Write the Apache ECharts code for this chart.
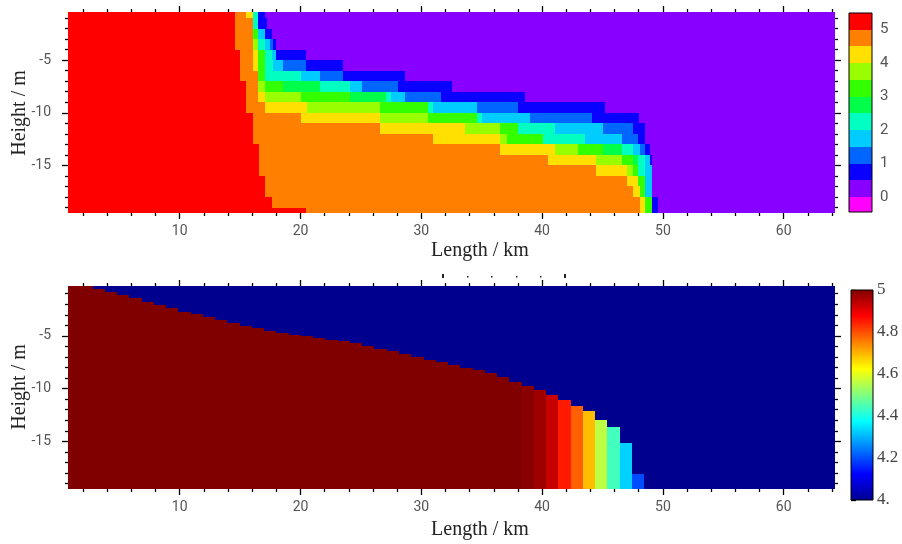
<!DOCTYPE html>
<html><head><meta charset="utf-8">
<script src="https://cdn.jsdelivr.net/npm/echarts@6/dist/echarts.min.js"></script>
<style>html,body{margin:0;padding:0;background:#fff}#c{width:902px;height:544px}</style>
</head><body><div id="c"></div>
<script>
// ---------------- data ----------------
const xTickValues = [10, 20, 30, 40, 50, 60];
const xMinorValues = [2,4,6,8,12,14,16,18,22,24,26,28,32,34,36,38,42,44,46,48,52,54,56,58,62,64];
const yTickValues = [-5, -10, -15];
const yMinorValues = [-1,-2,-3,-4,-6,-7,-8,-9,-11,-12,-13,-14,-16,-17,-18,-19];
const topBarTicks = [0, 1, 2, 3, 4, 5];
const bottomBarTicks = [4, 4.2, 4.4, 4.6, 4.8, 5];

// top colour scale (piecewise bands)
const topBandEdges = [-0.45, 0, 0.5, 1, 1.5, 2, 2.5, 3, 3.5, 4, 4.5, 5, 5.5];
const topBandColors = ['#ff00ff','#8800ff','#0a00ff','#0066ff','#00ccff','#00ffc0','#00ff48','#33ff00','#99ff00','#ffe000','#ff7f00','#ff0000'];

// top field: one list per 1 m row (row k spans depth -k-1 .. -k); each run = [value, x end in km]
const topRowRuns = [
  [[5.25,14.56],[4.75,15.52],[4.25,16.07],[2.25,16.49],[0.75,17.04],[0.25,64.25]],
  [[5.25,14.56],[4.75,16.07],[2.25,16.49],[0.75,17.2],[0.25,64.25]],
  [[5.25,14.56],[4.75,16.07],[3.25,16.49],[1.75,17.04],[0.75,17.6],[0.25,64.25]],
  [[5.25,14.56],[4.75,16.07],[3.75,16.49],[2.25,17.04],[1.75,17.46],[1.25,17.73],[0.75,18.0],[0.25,64.25]],
  [[5.25,14.97],[4.75,16.07],[4.25,16.49],[3.25,17.04],[2.25,17.6],[1.75,18.0],[0.75,20.49],[0.25,64.25]],
  [[5.25,14.97],[4.75,16.07],[4.25,16.49],[3.25,17.04],[2.25,17.73],[1.75,18.56],[1.25,20.49],[0.75,23.53],[0.25,64.25]],
  [[5.25,14.97],[4.75,16.49],[3.25,17.04],[2.25,20.08],[1.75,21.6],[1.25,23.53],[0.75,28.63],[0.25,64.25]],
  [[5.25,15.52],[4.75,16.49],[3.75,17.04],[3.25,18.56],[2.75,21.6],[2.25,24.08],[1.75,25.05],[1.25,28.08],[0.75,32.5],[0.25,64.25]],
  [[5.25,15.52],[4.75,16.49],[4.25,17.04],[3.75,20.08],[3.25,24.08],[2.75,27.1],[2.25,27.53],[1.75,28.63],[1.25,31.67],[0.75,38.57],[0.25,64.25]],
  [[5.25,15.52],[4.75,17.04],[4.25,20.5],[3.75,26.56],[3.25,30.57],[2.25,30.98],[1.75,34.57],[1.25,38.0],[0.75,45.2],[0.25,64.25]],
  [[5.25,16.07],[4.75,20.08],[4.25,26.56],[3.75,30.57],[3.25,34.57],[2.25,35.0],[1.75,39.0],[1.25,44.1],[0.75,48.0],[0.25,64.25]],
  [[5.25,16.07],[4.75,26.56],[4.25,33.6],[3.75,36.5],[3.25,38.0],[2.25,41.06],[1.75,45.06],[1.25,47.5],[0.75,48.5],[0.25,64.25]],
  [[5.25,16.07],[4.75,30.98],[4.25,36.5],[3.75,37.06],[3.25,40.1],[2.25,43.54],[1.75,46.6],[1.25,47.96],[0.75,48.5],[0.25,64.25]],
  [[5.25,16.57],[4.75,36.5],[4.25,41.06],[3.75,43.0],[3.25,45.06],[2.75,46.6],[2.25,47.55],[1.75,48.1],[1.25,48.5],[0.75,48.9],[0.25,64.25]],
  [[5.25,16.57],[4.75,40.5],[4.25,44.5],[3.75,46.6],[3.25,47.55],[2.75,47.96],[2.25,48.5],[1.75,48.9],[0.75,49.06],[0.25,64.25]],
  [[5.25,16.57],[4.75,44.5],[4.25,47.0],[3.75,47.55],[3.25,47.96],[2.25,48.5],[1.75,49.06],[0.25,64.25]],
  [[5.25,17.04],[4.75,47.0],[4.25,47.96],[3.25,48.5],[1.75,49.06],[0.25,64.25]],
  [[5.25,17.04],[4.75,47.55],[4.25,48.1],[3.25,48.5],[1.75,49.06],[0.25,64.25]],
  [[5.25,17.6],[4.75,48.1],[4.25,48.5],[3.25,49.06],[0.75,49.6],[0.25,64.25]],
  [[5.25,20.49],[4.75,48.1],[4.25,48.5],[3.25,49.06],[0.75,49.6],[0.25,64.25]]
];

// bottom field: per 1-km column, depth of the top of the lower layer and its value
const bottomColumnTop = [-0.27,-0.27,-0.58,-0.8,-1.12,-1.43,-1.75,-2.06,-2.38,-2.69,-2.92,-3.23,-3.48,-3.74,-4.02,-4.27,-4.5,-4.72,-4.9,-5.05,-5.22,-5.35,-5.5,-5.72,-5.97,-6.2,-6.42,-6.72,-6.98,-7.25,-7.48,-7.78,-8.05,-8.25,-8.55,-8.92,-9.33,-9.73,-10.1,-10.59,-11.06,-11.63,-12.17,-13.02,-13.65,-15.17,-18.07];
const bottomColumnValue = [5,5,5,5,5,5,5,5,5,5,5,5,5,5,5,5,5,5,5,5,5,5,5,5,5,5,5,5,5,5,5,5,5,5,5,5,5,4.99,4.97,4.93,4.85,4.78,4.69,4.56,4.44,4.33,4.2];
const bottomUpperValue = 4.0;
const bottomColumnCount = 63;

const jetColors = ['#00008f','#0000ff','#0080ff','#00ffff','#80ff80','#ffff00','#ff8000','#ff0000','#800000'];

// ---------------- geometry / build ----------------
const X_MIN = 0.75, X_MAX = 64.25, COL_START = 0.75, COL_W = 1.015;
const Y_BOTTOM = -19.52, TOP_YMAX = -0.43, BOT_YMAX = -0.27;

const topData = [];
topRowRuns.forEach((runs, k) => {
  let x0 = 0;
  runs.forEach(([v, xEnd]) => { topData.push([x0, xEnd, -(k + 1), -k, v]); x0 = xEnd; });
});
const bottomData = [];
for (let k = 0; k < bottomColumnCount; k++) {
  const x0 = COL_START + k * COL_W, x1 = x0 + COL_W;
  if (k < bottomColumnTop.length) {
    bottomData.push([x0, x1, -20, bottomColumnTop[k], bottomColumnValue[k]]);
    bottomData.push([x0, x1, bottomColumnTop[k], 0, bottomUpperValue]);
  } else {
    bottomData.push([x0, x1, -20, 0, bottomUpperValue]);
  }
}
const topBarData = [];
for (let i = 0; i < topBandColors.length; i++) {
  topBarData.push([0, 1, topBandEdges[i], topBandEdges[i + 1], (topBandEdges[i] + topBandEdges[i + 1]) / 2]);
}

function cellItem(params, api) {
  const a = api.coord([api.value(0), api.value(3)]);
  const b = api.coord([api.value(1), api.value(2)]);
  const cs = params.coordSys;
  const x0 = Math.round(a[0]), x1 = Math.round(b[0]);
  const y0 = Math.round(a[1]), y1 = Math.round(b[1]);
  const shape = echarts.graphic.clipRectByRect(
    {x: x0, y: y0, width: x1 - x0, height: y1 - y0},
    {x: cs.x, y: cs.y, width: cs.width, height: cs.height});
  if (!shape || shape.width <= 0 || shape.height <= 0) return;
  return {type: 'rect', shape: shape, style: {fill: api.visual('color')}};
}
function frameItem(params, api) {
  const cs = params.coordSys;
  return {type: 'rect', shape: {x: cs.x, y: cs.y, width: cs.width, height: cs.height},
    style: {fill: 'none', stroke: '#000', lineWidth: 1}};
}
function jetItem(params, api) {
  const cs = params.coordSys;
  const stops = jetColors.map((c, i) => ({offset: i / (jetColors.length - 1), color: c}));
  return {type: 'rect', shape: {x: cs.x, y: cs.y, width: cs.width, height: cs.height},
    style: {fill: new echarts.graphic.LinearGradient(0, 1, 0, 0, stops), stroke: '#000', lineWidth: 1}};
}

const tickLine = {color: '#000', width: 1.3};
const labelStyle = {color: '#555', fontSize: 14, fontFamily: 'Roboto'};

function xAxes(grid) {
  const base = {type: 'value', gridIndex: grid, min: X_MIN, max: X_MAX, splitLine: {show: false},
    axisLine: {show: false, onZero: false}};
  return [
    Object.assign({}, base, {position: 'bottom', axisTick: {customValues: xTickValues, length: 6, lineStyle: tickLine},
      axisLabel: {customValues: xTickValues, margin: 11, ...labelStyle}}),
    Object.assign({}, base, {position: 'top', axisTick: {customValues: xTickValues, length: 6, lineStyle: tickLine},
      axisLabel: {show: false}}),
    Object.assign({}, base, {position: 'bottom', axisTick: {customValues: xMinorValues, length: 3, lineStyle: tickLine},
      axisLabel: {show: false}}),
    Object.assign({}, base, {position: 'top', axisTick: {customValues: xMinorValues, length: 3, lineStyle: tickLine},
      axisLabel: {show: false}})
  ];
}
function yAxes(grid, ymax) {
  const base = {type: 'value', gridIndex: grid, min: Y_BOTTOM, max: ymax, splitLine: {show: false},
    axisLine: {show: false, onZero: false}};
  return [
    Object.assign({}, base, {position: 'left', axisTick: {customValues: yTickValues, length: 6, lineStyle: tickLine},
      axisLabel: {customValues: yTickValues, margin: 17, ...labelStyle}}),
    Object.assign({}, base, {position: 'right', axisTick: {customValues: yTickValues, length: 6, lineStyle: tickLine},
      axisLabel: {show: false}}),
    Object.assign({}, base, {position: 'left', axisTick: {customValues: yMinorValues, length: 3, lineStyle: tickLine},
      axisLabel: {show: false}}),
    Object.assign({}, base, {position: 'right', axisTick: {customValues: yMinorValues, length: 3, lineStyle: tickLine},
      axisLabel: {show: false}})
  ];
}

const xAxisList = [].concat(xAxes(0), xAxes(1), [
  {type: 'value', gridIndex: 2, min: 0, max: 1, show: false},
  {type: 'value', gridIndex: 3, min: 0, max: 1, show: false}
]);
const yAxisList = [].concat(yAxes(0, TOP_YMAX), yAxes(1, BOT_YMAX), [
  {type: 'value', gridIndex: 2, min: -0.45, max: 5.5, position: 'right', splitLine: {show: false},
    axisLine: {show: false}, axisTick: {customValues: topBarTicks, length: 5, lineStyle: tickLine},
    axisLabel: {customValues: topBarTicks, margin: 8, color: '#555', fontSize: 15, fontFamily: 'Roboto'}},
  {type: 'value', gridIndex: 3, min: 4, max: 5, position: 'right', splitLine: {show: false},
    axisLine: {show: false}, axisTick: {customValues: bottomBarTicks, length: 5, lineStyle: tickLine},
    axisLabel: {customValues: bottomBarTicks, margin: 4, color: '#444', fontSize: 17, fontFamily: 'Liberation Serif',
      formatter: v => (Math.abs(v - 4) < 1e-9 ? '4.' : (Math.abs(v - 5) < 1e-9 ? '5' : v.toFixed(1)))}}
]);

const titleFont = '20px "Liberation Serif"';
const dotStyle = {fill: '#222'};
const option = {
  animation: false,
  backgroundColor: '#fff',
  grid: [
    {left: 68, top: 12, width: 767, height: 201},
    {left: 68, top: 286, width: 767, height: 203},
    {left: 849, top: 13, width: 23, height: 199},
    {left: 851, top: 290, width: 22, height: 210}
  ],
  xAxis: xAxisList,
  yAxis: yAxisList,
  visualMap: [
    {type: 'piecewise', show: false, seriesIndex: [0, 2], dimension: 4,
      pieces: topBandColors.map((c, i) => ({gte: topBandEdges[i], lt: topBandEdges[i + 1] + (i === topBandColors.length - 1 ? 1 : 0), color: c}))},
    {type: 'continuous', show: false, seriesIndex: 1, dimension: 4, min: 4, max: 5, inRange: {color: jetColors}}
  ],
  series: [
    {type: 'custom', xAxisIndex: 0, yAxisIndex: 0, renderItem: cellItem, data: topData, encode: {x: [0, 1], y: [2, 3]}, silent: true},
    {type: 'custom', xAxisIndex: 4, yAxisIndex: 4, renderItem: cellItem, data: bottomData, encode: {x: [0, 1], y: [2, 3]}, silent: true},
    {type: 'custom', xAxisIndex: 8, yAxisIndex: 8, renderItem: cellItem, data: topBarData, encode: {x: [0, 1], y: [2, 3]}, silent: true},
    {type: 'custom', xAxisIndex: 8, yAxisIndex: 8, renderItem: frameItem, data: [[0, 1, -0.45, 5.5]], silent: true, z: 5},
    {type: 'custom', xAxisIndex: 9, yAxisIndex: 9, renderItem: jetItem, data: [[0, 1, 4, 5]], silent: true}
  ],
  graphic: [
    {type: 'text', x: 480, y: 251, style: {text: 'Length / km', font: titleFont, fill: '#222', align: 'center', verticalAlign: 'middle'}},
    {type: 'text', x: 480, y: 530, style: {text: 'Length / km', font: titleFont, fill: '#222', align: 'center', verticalAlign: 'middle'}},
    {type: 'text', x: 20, y: 113, rotation: Math.PI / 2, style: {text: 'Height / m', font: titleFont, fill: '#222', align: 'center', verticalAlign: 'middle'}},
    {type: 'text', x: 20, y: 387, rotation: Math.PI / 2, style: {text: 'Height / m', font: titleFont, fill: '#222', align: 'center', verticalAlign: 'middle'}},
    {type: 'rect', silent: true, shape: {x: 442, y: 274, width: 2, height: 4}, style: dotStyle},
    {type: 'rect', silent: true, shape: {x: 467, y: 276, width: 1.5, height: 1.5}, style: dotStyle},
    {type: 'rect', silent: true, shape: {x: 491, y: 276, width: 1.5, height: 1.5}, style: dotStyle},
    {type: 'rect', silent: true, shape: {x: 516, y: 276, width: 1.5, height: 1.5}, style: dotStyle},
    {type: 'rect', silent: true, shape: {x: 540, y: 276, width: 1.5, height: 1.5}, style: dotStyle},
    {type: 'rect', silent: true, shape: {x: 564, y: 274, width: 2, height: 4}, style: dotStyle}
  ]
};
const chart = echarts.init(document.getElementById('c'), null, {renderer: 'canvas'});
chart.setOption(option);
</script>
</body></html>
